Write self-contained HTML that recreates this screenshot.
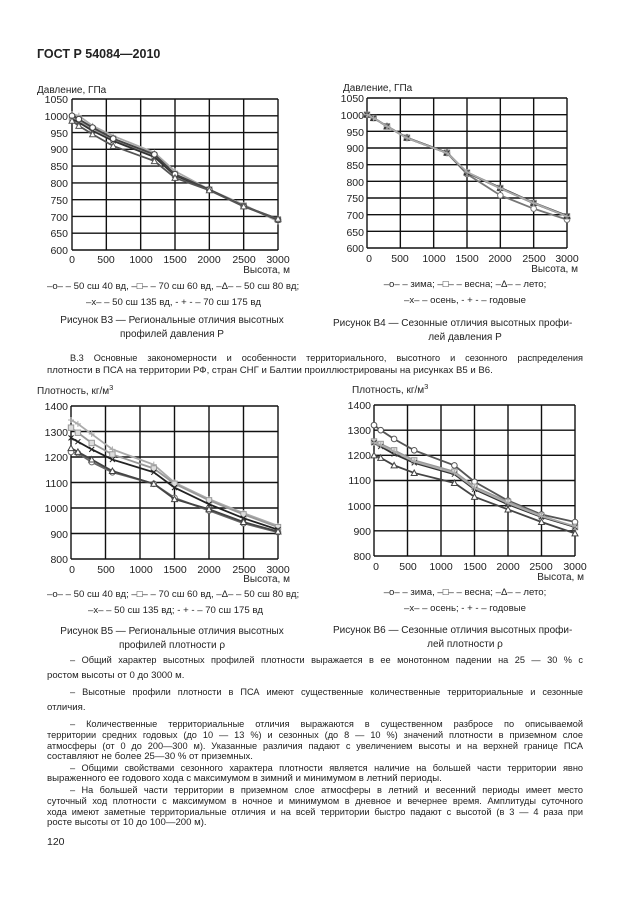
<!DOCTYPE html>
<html><head><meta charset="utf-8">
<style>
body{margin:0;background:#fff;width:630px;height:913px;position:relative;overflow:hidden;font-family:"Liberation Sans",Arial,sans-serif;color:#222}
svg{position:absolute;left:0;top:0}
.t{position:absolute;font-size:9.6px;line-height:12px;white-space:nowrap}
.j{text-align:justify;text-align-last:justify;white-space:normal;height:12px;overflow:hidden;font-size:9.2px}
</style></head><body>
<svg id="s" width="630" height="913" font-family="Liberation Sans, Arial, sans-serif" font-size="10.5" fill="#222">
<text x="37" y="58" font-size="12.5" font-weight="bold">ГОСТ Р 54084—2010</text>

<text x="37" y="93" font-size="10">Давление, ГПа</text>
<g text-anchor="end" font-size="10.5">
<text x="68" y="103">1050</text><text x="68" y="120">1000</text><text x="68" y="137">950</text><text x="68" y="153">900</text><text x="68" y="170">850</text><text x="68" y="187">800</text><text x="68" y="204">750</text><text x="68" y="221">700</text><text x="68" y="237">650</text><text x="68" y="254">600</text>
</g>
<g text-anchor="middle" font-size="10.5">
<text x="72" y="263">0</text><text x="106" y="263">500</text><text x="141" y="263">1000</text><text x="175" y="263">1500</text><text x="209" y="263">2000</text><text x="244" y="263">2500</text><text x="278" y="263">3000</text>
</g>
<text x="290" y="273" text-anchor="end" font-size="10">Высота, м</text>
<text x="47" y="289" font-size="9.6">–o– – 50 сш 40 вд,  –□– – 70 сш 60 вд,  –Δ– – 50 сш 80 вд;</text>
<text x="86" y="305" font-size="9.6">–x– – 50 сш 135 вд,  - + - – 70 сш 175 вд</text>
<text x="172" y="323" text-anchor="middle" font-size="10">Рисунок В3 — Региональные отличия высотных</text>
<text x="172" y="337" text-anchor="middle" font-size="10">профилей давления Р</text>

<text x="343" y="91" font-size="10">Давление, ГПа</text>
<g text-anchor="end" font-size="10.5">
<text x="364" y="102">1050</text><text x="364" y="119">1000</text><text x="364" y="136">950</text><text x="364" y="152">900</text><text x="364" y="169">850</text><text x="364" y="186">800</text><text x="364" y="202">750</text><text x="364" y="219">700</text><text x="364" y="236">650</text><text x="364" y="252">600</text>
</g>
<g text-anchor="middle" font-size="10.5">
<text x="369" y="262">0</text><text x="400" y="262">500</text><text x="434" y="262">1000</text><text x="467" y="262">1500</text><text x="500" y="262">2000</text><text x="534" y="262">2500</text><text x="567" y="262">3000</text>
</g>
<text x="578" y="272" text-anchor="end" font-size="10">Высота, м</text>
<text x="465" y="287" text-anchor="middle" font-size="9.6">–o– – зима;  –□– – весна;  –Δ– – лето;</text>
<text x="465" y="303" text-anchor="middle" font-size="9.6">–x– – осень,  - + - – годовые</text>
<text x="333" y="326" font-size="10">Рисунок В4 — Сезонные отличия высотных профи-</text>
<text x="465" y="340" text-anchor="middle" font-size="10">лей давления Р</text>

<text x="37" y="394" font-size="10">Плотность, кг/м<tspan dy="-4" font-size="7.5">3</tspan></text>
<g text-anchor="end" font-size="10.5">
<text x="68" y="410">1400</text><text x="68" y="436">1300</text><text x="68" y="461">1200</text><text x="68" y="487">1100</text><text x="68" y="512">1000</text><text x="68" y="538">900</text><text x="68" y="563">800</text>
</g>
<g text-anchor="middle" font-size="10.5">
<text x="72" y="573">0</text><text x="106" y="573">500</text><text x="141" y="573">1000</text><text x="175" y="573">1500</text><text x="209" y="573">2000</text><text x="244" y="573">2500</text><text x="278" y="573">3000</text>
</g>
<text x="290" y="582" text-anchor="end" font-size="10">Высота, м</text>
<text x="47" y="597" font-size="9.6">–o– – 50 сш 40 вд;  –□– – 70 сш 60 вд,  –Δ– – 50 сш 80 вд;</text>
<text x="88" y="613" font-size="9.6">–x– – 50 сш 135 вд;  - + - – 70 сш 175 вд</text>
<text x="172" y="634" text-anchor="middle" font-size="10">Рисунок В5 — Региональные отличия высотных</text>
<text x="172" y="648" text-anchor="middle" font-size="10">профилей плотности ρ</text>

<text x="352" y="393" font-size="10">Плотность, кг/м<tspan dy="-4" font-size="7.5">3</tspan></text>
<g text-anchor="end" font-size="10.5">
<text x="371" y="409">1400</text><text x="371" y="434">1300</text><text x="371" y="459">1200</text><text x="371" y="484">1100</text><text x="371" y="510">1000</text><text x="371" y="535">900</text><text x="371" y="560">800</text>
</g>
<g text-anchor="middle" font-size="10.5">
<text x="376" y="570">0</text><text x="408" y="570">500</text><text x="441" y="570">1000</text><text x="475" y="570">1500</text><text x="508" y="570">2000</text><text x="541" y="570">2500</text><text x="575" y="570">3000</text>
</g>
<text x="584" y="580" text-anchor="end" font-size="10">Высота, м</text>
<text x="465" y="595" text-anchor="middle" font-size="9.6">–o– – зима,  –□– – весна;  –Δ– – лето;</text>
<text x="465" y="611" text-anchor="middle" font-size="9.6">–x– – осень;  - + - – годовые</text>
<text x="333" y="633" font-size="10">Рисунок В6 — Сезонные отличия высотных профи-</text>
<text x="465" y="647" text-anchor="middle" font-size="10">лей плотности ρ</text>
<g id="g"></g>
</svg>

<div class="t j" style="left:70px;top:352px;width:513px">В.3 Основные закономерности и особенности территориального, высотного и сезонного распределения</div>
<div class="t" style="left:47px;top:365px">плотности  в ПСА на территории РФ, стран СНГ и Балтии проиллюстрированы на рисунках В5 и В6.</div>

<div class="t j" style="left:70px;top:654px;width:513px">– Общий характер высотных профилей плотности выражается в ее монотонном падении на 25 — 30 % с</div>
<div class="t" style="left:47px;top:670px">ростом высоты  от 0 до 3000 м.</div>
<div class="t j" style="left:70px;top:686px;width:513px">– Высотные профили плотности в ПСА имеют существенные количественные территориальные и сезонные</div>
<div class="t" style="left:47px;top:702px">отличия.</div>
<div class="t j" style="left:70px;top:718px;width:513px">– Количественные территориальные отличия выражаются в существенном разбросе по описываемой</div>
<div class="t j" style="left:47px;top:729px;width:536px">территории средних годовых (до 10 — 13 %) и сезонных (до 8 — 10 %) значений плотности в приземном слое</div>
<div class="t j" style="left:47px;top:740px;width:536px">атмосферы (от 0 до 200—300 м). Указанные различия падают с увеличением высоты и на верхней границе ПСА</div>
<div class="t" style="left:47px;top:751px">составляют не более 25—30 % от приземных.</div>
<div class="t j" style="left:70px;top:762px;width:513px">– Общими свойствами сезонного характера плотности является наличие на большей части территории явно</div>
<div class="t" style="left:47px;top:773px">выраженного ее годового хода с максимумом в зимний и минимумом в летний периоды.</div>
<div class="t j" style="left:70px;top:784px;width:513px">–  На большей части территории в приземном слое атмосферы в летний и весенний периоды имеет место</div>
<div class="t j" style="left:47px;top:795px;width:536px">суточный ход плотности  с максимумом в ночное и минимумом в дневное и вечернее время. Амплитуды суточного</div>
<div class="t j" style="left:47px;top:806px;width:536px">хода имеют заметные территориальные отличия и на всей территории быстро падают с высотой (в 3 — 4 раза при</div>
<div class="t" style="left:47px;top:817px">росте высоты от 10 до 100—200 м).</div>
<div class="t" style="left:47px;top:836px;font-size:10.5px">120</div>

<script>
var g=document.getElementById('g'),NS='http://www.w3.org/2000/svg';
function el(n,a){var e=document.createElementNS(NS,n);for(var k in a)e.setAttribute(k,a[k]);g.appendChild(e);return e;}
var H=[0,100,300,600,1200,1500,2000,2500,3000];
function chart(c){
 var X=function(h){return c.x0+(c.x1-c.x0)*h/3000},Y=function(v){return c.y1-(c.y1-c.y0)*(v-c.vmin)/(c.vmax-c.vmin)};
 for(var i=0;i<=6;i++)el('line',{x1:X(i*500),x2:X(i*500),y1:c.y0,y2:c.y1,stroke:'#111','stroke-width':1.4});
 for(var v=c.vmin;v<=c.vmax;v+=c.step)el('line',{x1:c.x0,x2:c.x1,y1:Y(v),y2:Y(v),stroke:'#111','stroke-width':1.4});
 c.s.forEach(function(s){
  var p=H.map(function(h,i){return X(h)+','+Y(s.v[i])}).join(' ');
  el('polyline',{points:p,fill:'none',stroke:s.c,'stroke-width':1.8});
  H.forEach(function(h,i){var x=X(h),y=Y(s.v[i]);
   if(s.m=='o')el('circle',{cx:x,cy:y,r:2.8,fill:'#fff',stroke:s.c,'stroke-width':1});
   else if(s.m=='s')el('rect',{x:x-2.7,y:y-2.7,width:5.4,height:5.4,fill:'#ddd',stroke:s.c,'stroke-width':1});
   else if(s.m=='t')el('path',{d:'M'+x+' '+(y-3)+'l3 5.5h-6z',fill:'#fff',stroke:s.c,'stroke-width':1});
   else if(s.m=='x')el('path',{d:'M'+(x-2.5)+' '+(y-2.5)+'l5 5m0-5l-5 5',stroke:s.c,'stroke-width':1});
   else el('path',{d:'M'+(x-3)+' '+y+'h6M'+x+' '+(y-3)+'v6',stroke:s.c,'stroke-width':1});
  });
 });
}
chart({x0:72,x1:278,y0:99,y1:250,vmin:600,vmax:1050,step:50,s:[
 {m:'p',c:'#aaa',v:[1005,1000,970,940,890,835,780,735,685]},
 {m:'s',c:'#999',v:[995,985,960,930,880,825,780,732,690]},
 {m:'x',c:'#333',v:[990,980,955,925,877,822,780,731,692]},
 {m:'o',c:'#444',v:[1000,990,965,932,885,826,780,730,690]},
 {m:'t',c:'#555',v:[985,970,945,910,865,815,778,730,693]}]});
chart({x0:367,x1:567,y0:98,y1:248,vmin:600,vmax:1050,step:50,s:[
 {m:'o',c:'#777',v:[1000,990,965,930,885,822,758,718,685]},
 {m:'s',c:'#999',v:[1000,990,965,931,886,826,780,735,695]},
 {m:'t',c:'#333',v:[1000,990,965,931,886,827,781,736,697]},
 {m:'x',c:'#333',v:[1000,990,965,930,885,826,779,734,695]},
 {m:'p',c:'#aaa',v:[1000,990,965,930,885,828,779,735,695]}]});
chart({x0:71,x1:278,y0:406,y1:559,vmin:800,vmax:1400,step:100,s:[
 {m:'p',c:'#aaa',v:[1345,1330,1290,1230,1170,1100,1035,980,930]},
 {m:'s',c:'#999',v:[1315,1295,1255,1210,1155,1095,1030,975,925]},
 {m:'x',c:'#222',v:[1275,1260,1230,1190,1140,1080,1015,960,915]},
 {m:'o',c:'#666',v:[1220,1215,1180,1140,1095,1040,990,940,905]},
 {m:'t',c:'#444',v:[1235,1220,1190,1145,1095,1035,995,945,908]}]});
chart({x0:374,x1:575,y0:405,y1:556,vmin:800,vmax:1400,step:100,s:[
 {m:'o',c:'#555',v:[1320,1300,1265,1220,1160,1095,1020,965,935]},
 {m:'s',c:'#999',v:[1255,1245,1220,1180,1135,1075,1015,960,915]},
 {m:'x',c:'#333',v:[1250,1235,1205,1170,1125,1065,1005,955,915]},
 {m:'p',c:'#aaa',v:[1250,1240,1215,1175,1130,1070,1010,958,918]},
 {m:'t',c:'#444',v:[1200,1190,1160,1130,1090,1035,985,935,890]}]});
</script>
</body></html>
